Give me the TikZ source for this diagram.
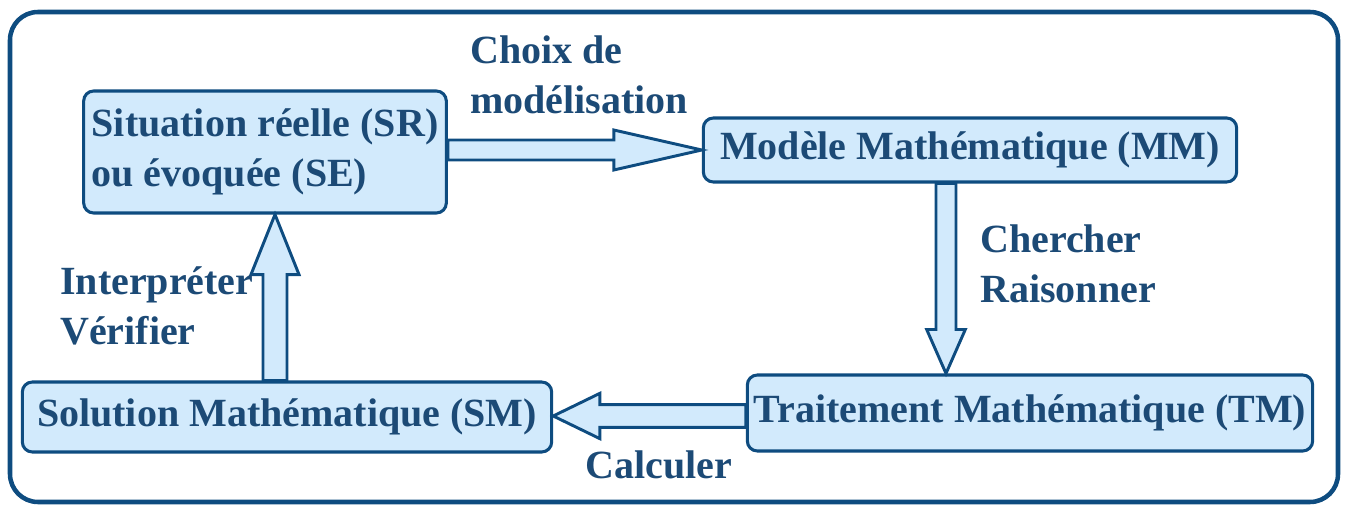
\documentclass[tikz,border=0pt]{standalone}
\usepackage{fontspec}
\setmainfont{Liberation Serif}
\usetikzlibrary{calc}

\definecolor{frameblue}{RGB}{14,76,128}
\definecolor{textblue}{RGB}{28,74,118}
\definecolor{boxfill}{RGB}{210,234,252}

\tikzset{
  stage/.style={draw=frameblue, line width=2.3pt, fill=boxfill, rounded corners=7.5pt,
    text=textblue, font=\bfseries\fontsize{30}{37.5}\selectfont, inner sep=0pt},
  lbl/.style={text=textblue, font=\bfseries\fontsize{30}{37.5}\selectfont, align=left,
    anchor=west, inner sep=0pt},
  blockarrow/.style={draw=frameblue, line width=2.2pt, fill=boxfill, line join=miter},
}

% hollow block arrow: from, to, shaft half width, head half width, head length
\newcommand\hollowarrow[5]{%
  \path (#1) coordinate (ha-s) (#2) coordinate (ha-e);
  \path ($(ha-e)!#5!(ha-s)$) coordinate (ha-h);
  \draw[blockarrow] ($(ha-s)!#3!90:(ha-e)$) -- ($(ha-h)!#3!90:(ha-e)$)
    -- ($(ha-h)!#4!90:(ha-e)$) -- (ha-e) -- ($(ha-h)!#4!-90:(ha-e)$)
    -- ($(ha-h)!#3!-90:(ha-e)$) -- ($(ha-s)!#3!-90:(ha-e)$) -- cycle;
}

\begin{document}
\begin{tikzpicture}[x=0.75pt,y=-0.75pt]
\useasboundingbox (0,0) rectangle (1346,506);

% outer frame
\draw[frameblue, line width=3.4pt, rounded corners=21pt] (10,12) rectangle (1338,502);

% stages of the modelling cycle
\node[stage, minimum width=272pt, minimum height=91.5pt, align=left] (sr) at (265,152)
  {Situation réelle (SR)\\ou évoquée (SE)};
\node[stage, minimum width=400pt, minimum height=48pt] (mm) at (970,150)
  {Modèle Mathématique (MM)};
\node[stage, minimum width=424pt, minimum height=57pt] (tm) at (1030,413)
  {Traitement Mathématique (TM)};
\node[stage, minimum width=397pt, minimum height=52.5pt] (sm) at (287,417)
  {Solution Mathématique (SM)};

% arrow guide lines
\coordinate (vdown) at (946,0);
\coordinate (vup) at (275,0);
\coordinate (hleft) at (0,416);

% connectors
\hollowarrow{sr.east |- mm.west}{mm.west}{7.5pt}{15pt}{66pt}
\hollowarrow{mm.south -| vdown}{tm.north -| vdown}{7.5pt}{14.5pt}{33pt}
\hollowarrow{tm.west |- hleft}{sm.east |- hleft}{8.5pt}{17pt}{35pt}
\hollowarrow{sm.north -| vup}{sr.south -| vup}{9pt}{18pt}{45pt}

% connector labels
\node[lbl] (l1) at (470,75) {Choix de\\modélisation};
\node[lbl] (l2) at (980,264) {Chercher\\Raisonner};
\node[lbl] (l3) at (585,465) {Calculer};
\node[lbl] (l4) at (60,306) {Interpréter\\Vérifier};
\end{tikzpicture}
\end{document}
